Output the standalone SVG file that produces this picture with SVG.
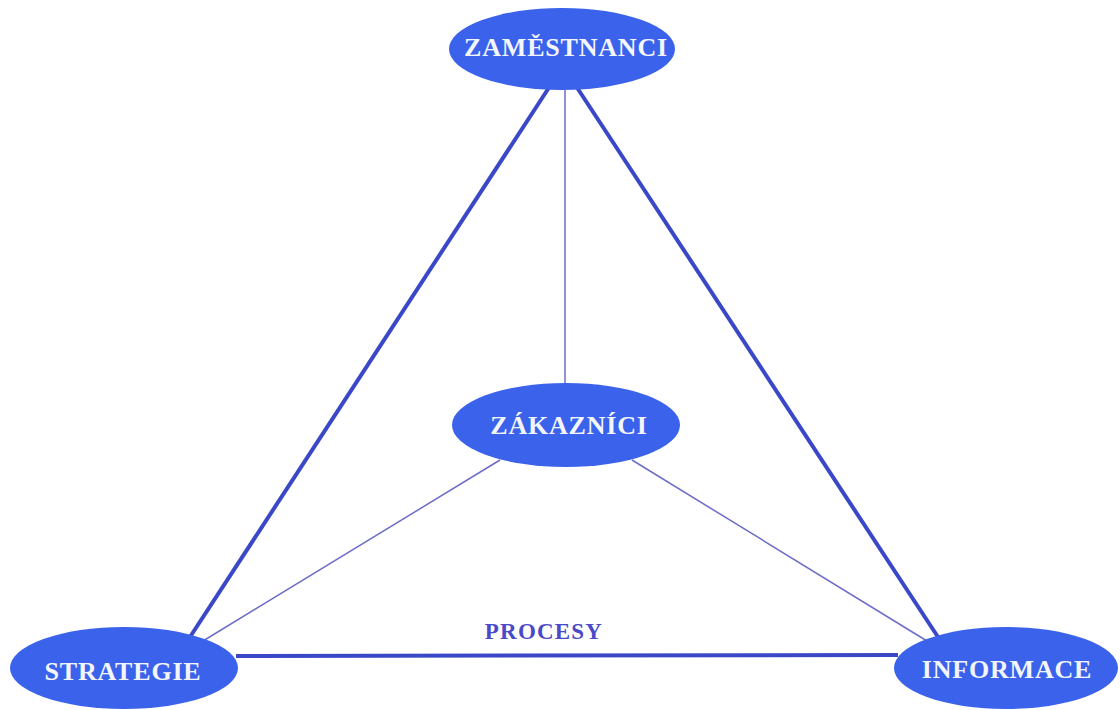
<svg xmlns="http://www.w3.org/2000/svg" width="1120" height="710" viewBox="0 0 1120 710">
<style>
.node ellipse{fill:#3a62ea}
.node text{fill:#f4f6ff;font-family:"Liberation Serif",serif;font-weight:bold;font-size:26px;letter-spacing:0.8px;text-anchor:middle}
.thick{stroke:#3a48c8;stroke-width:4;fill:none}
.thin{stroke:#6c6cc8;stroke-width:1.5;fill:none}
.lbl{fill:#4a4ac8;font-family:"Liberation Serif",serif;font-weight:bold;font-size:23px;letter-spacing:1.2px;text-anchor:middle}
</style>
<rect width="1120" height="710" fill="#ffffff"/>
<g id="connectors">
<line class="thick" x1="550" y1="86" x2="190" y2="637"/>
<line class="thick" x1="576" y1="86" x2="938" y2="637"/>
<line class="thin" x1="565" y1="90" x2="565" y2="384"/>
<line class="thin" x1="500" y1="460" x2="203" y2="641"/>
<line class="thin" x1="632" y1="460" x2="927" y2="641"/>
<line class="thick" x1="236" y1="656" x2="898" y2="655"/>
<text class="lbl" x="544" y="639">PROCESY</text>
</g>
<g id="zamestnanci" class="node">
<ellipse cx="562" cy="49" rx="113" ry="41"/>
<text x="566" y="56">ZAMĚSTNANCI</text>
</g>
<g id="zakaznici" class="node">
<ellipse cx="566" cy="425" rx="114" ry="42"/>
<text x="569" y="434">ZÁKAZNÍCI</text>
</g>
<g id="strategie" class="node">
<ellipse cx="124" cy="668" rx="114" ry="41"/>
<text x="123" y="680">STRATEGIE</text>
</g>
<g id="informace" class="node">
<ellipse cx="1006" cy="668" rx="112" ry="41"/>
<text x="1007" y="678">INFORMACE</text>
</g>
</svg>
